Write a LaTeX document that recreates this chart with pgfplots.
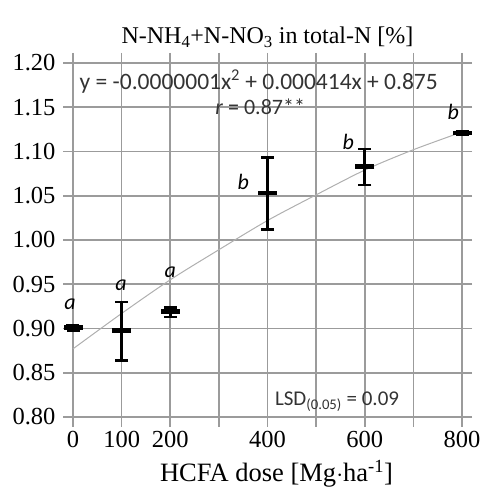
\documentclass[border=0pt]{standalone}
\usepackage{fontspec}
\setmainfont{Liberation Serif}
\newfontfamily\tickfont{Liberation Serif}
\newfontfamily\annfont{Carlito}
\usepackage{pgfplots}
\pgfplotsset{compat=1.18}
\definecolor{gridgray}{RGB}{155,155,155}
\definecolor{trendgray}{RGB}{175,175,175}
\begin{document}
\begin{tikzpicture}
\begin{axis}[
  name=ax,
  scale only axis,
  width=389bp, height=354bp,
  xmin=0, xmax=800, ymin=0.8, ymax=1.2,
  clip=false,
  axis line style={gridgray, line width=1.6bp},
  xtick={0,100,200,300,400,500,600,700,800},
  xticklabels={\mbox{\tickfont 0},\mbox{\tickfont 100},\mbox{\tickfont 200},,\mbox{\tickfont 400},,\mbox{\tickfont 600},,\mbox{\tickfont 800}},
  ytick={0.80,0.85,0.90,0.95,1.00,1.05,1.10,1.15,1.20},
  yticklabels={\mbox{\tickfont 0.80},\mbox{\tickfont 0.85},\mbox{\tickfont 0.90},\mbox{\tickfont 0.95},\mbox{\tickfont 1.00},\mbox{\tickfont 1.05},\mbox{\tickfont 1.10},\mbox{\tickfont 1.15},\mbox{\tickfont 1.20}},
  tick align=outside,
  major tick length=10bp,
  tick style={gridgray, line width=1.6bp},
  grid=major,
  major grid style={gridgray, line width=1.6bp},
  tick label style={font=\tickfont\fontsize{24.5bp}{26bp}\selectfont},
  xticklabel style={yshift=-1bp},
  yticklabel style={xshift=-4bp},
  title={N-NH\textsubscript{4}+N-NO\textsubscript{3} in total-N [\%]},
  title style={font=\fontsize{24bp}{26bp}\selectfont, yshift=6bp},
  xlabel={HCFA dose [Mg$\cdot$ha\textsuperscript{-1}]},
  xlabel style={font=\fontsize{26.5bp}{28bp}\selectfont, yshift=-5bp, xshift=9bp},
]
% trend line
\addplot[trendgray, line width=1bp, smooth, no marks] coordinates {
 (0,0.877) (100,0.917) (200,0.955) (300,0.989) (400,1.022)
 (500,1.051) (600,1.079) (700,1.102) (800,1.122)
};
% means with error bars
\addplot[black, only marks, mark=-, mark size=9.5bp,
  mark options={line width=4.5bp},
  error bars/.cd, y dir=both, y explicit,
  error bar style={line width=2.6bp, black},
  error mark options={rotate=90, mark size=6.5bp, line width=2.6bp, black}]
 coordinates {
 (0,0.901) += (0,0.003) -= (0,0.003)
 (100,0.898) += (0,0.032) -= (0,0.034)
 (200,0.919) += (0,0.005) -= (0,0.006)
 (400,1.053) += (0,0.040) -= (0,0.041)
 (600,1.083) += (0,0.020) -= (0,0.021)
 (800,1.121) += (0,0.002) -= (0,0.002)
};
% group letters
\node[font=\annfont\itshape\fontsize{22bp}{24bp}\selectfont] at (axis cs:-6,0.927) {a};
\node[font=\annfont\itshape\fontsize{22bp}{24bp}\selectfont] at (axis cs:99,0.949) {a};
\node[font=\annfont\itshape\fontsize{22bp}{24bp}\selectfont] at (axis cs:200,0.964) {a};
\node[font=\annfont\itshape\fontsize{22bp}{24bp}\selectfont] at (axis cs:350,1.066) {b};
\node[font=\annfont\itshape\fontsize{22bp}{24bp}\selectfont] at (axis cs:566,1.111) {b};
\node[font=\annfont\itshape\fontsize{22bp}{24bp}\selectfont] at (axis cs:782,1.145) {b};
% annotations
\node[font=\annfont\fontsize{23.5bp}{25bp}\selectfont, text=black!80] at (axis cs:382,1.179) {y = -0.0000001x\textsuperscript{2} + 0.000414x + 0.875};
\node[font=\annfont\fontsize{22bp}{24bp}\selectfont, text=black!80] at (axis cs:385,1.150) {\textit{r} = 0.87**};
\node[font=\annfont\fontsize{21bp}{23bp}\selectfont, text=black!80] at (axis cs:543,0.817) {LSD\textsubscript{(0.05)} = 0.09};
\end{axis}
\pgfresetboundingbox
\path[use as bounding box] ([shift={(-73bp,-71bp)}]ax.south west) rectangle ([shift={(22bp,63bp)}]ax.north east);
\end{tikzpicture}
\end{document}
